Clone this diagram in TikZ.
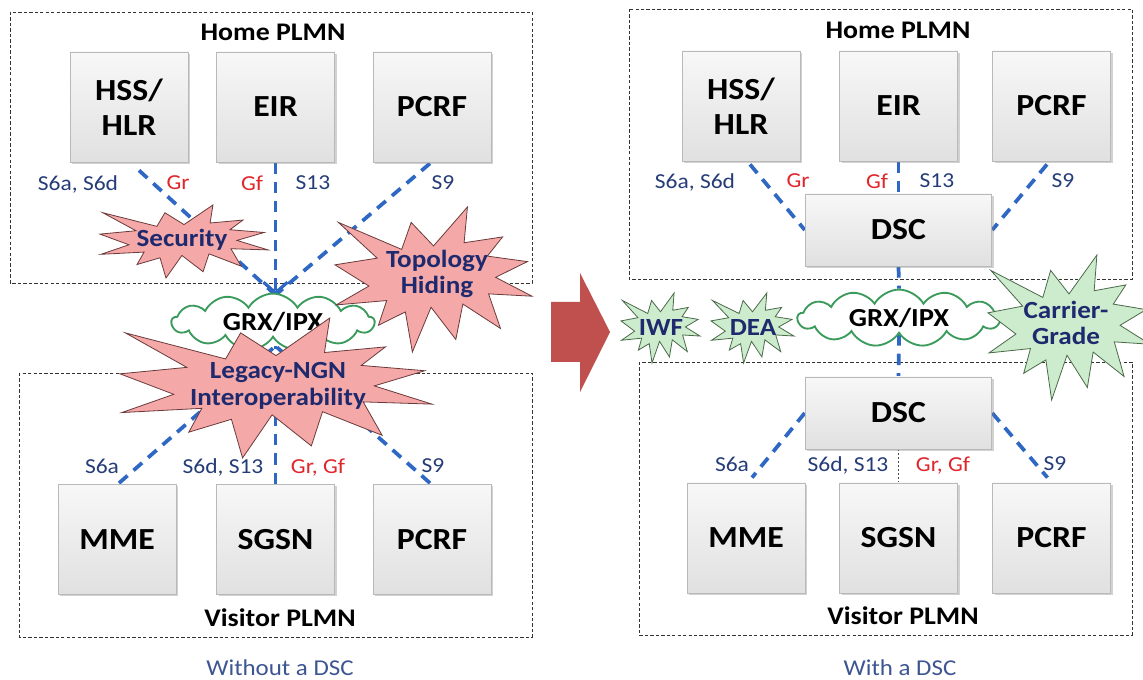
\documentclass[tikz,border=0pt]{standalone}
\usepackage{fontspec}
\setmainfont{Carlito}[FakeStretch=1.1]
\usetikzlibrary{shapes.symbols,shadows,arrows.meta,backgrounds}
\definecolor{linkblue}{HTML}{2F68C4}
\definecolor{navy}{HTML}{253C78}
\definecolor{lblred}{HTML}{E0252B}
\definecolor{burstnavy}{HTML}{1F2A6E}
\definecolor{pinkfill}{HTML}{F4A9A8}
\definecolor{pinkline}{HTML}{6B3A3A}
\definecolor{greenfill}{HTML}{CDECCD}
\definecolor{greenline}{HTML}{4A6A4A}
\definecolor{cloudgreen}{HTML}{3A9B5C}
\definecolor{arrowred}{HTML}{C0504D}
\definecolor{capblue}{HTML}{3D5592}
\newcommand\burstshape[5]{%
  \pgfmathsetmacro\exsx{(#4-#2)*0.75/216}%
  \pgfmathsetmacro\exsy{(#5-#3)*0.75/216}%
  \begin{scope}[shift={(#2,#3)},x=\exsx pt,y=-\exsy pt]
    \path[#1] (108,58) -- (145.22,0) -- (141.55,53.25) -- (183.8,44.57) -- (167.02,73.15)
      -- (210.97,81.37) -- (176.07,104.75) -- (216,132.9) -- (168.37,129.42) -- (181.45,180.95)
      -- (140.2,144.57) -- (132.47,197.37) -- (105.32,149.35) -- (84.85,216) -- (77.15,156.27)
      -- (47.62,176.17) -- (56.67,139.37) -- (1.35,145.87) -- (37.22,117.75) -- (0,86.15)
      -- (46.27,76.17) -- (3.7,22.95) -- (73.12,63.2) -- (83.52,22.95) -- cycle;
  \end{scope}}
\begin{document}
\begin{tikzpicture}[x=0.75pt,y=-0.75pt,
  box/.style={draw=gray!55, line width=0.6pt, top color=gray!6, bottom color=gray!24,
    drop shadow={shadow xshift=1.5pt,shadow yshift=-1.5pt,opacity=0.35},
    font=\bfseries\fontsize{23}{26}\selectfont, align=center,
    minimum width=88.5pt, minimum height=82.5pt, inner sep=0pt},
  dscbox/.style={box, minimum width=140pt, minimum height=54pt},
  region/.style={draw=black!80, dash pattern=on 2.5pt off 1.6pt, line width=0.6pt},
  link/.style={draw=linkblue, line width=2.8pt, dash pattern=on 8.5pt off 6pt},
  thinlink/.style={draw=black!70, line width=0.6pt, dash pattern=on 1.5pt off 1.5pt},
  lbl/.style={font=\fontsize{16}{17}\selectfont, text=navy, inner sep=0pt, text depth=0pt},
  rlbl/.style={lbl, text=lblred},
  title/.style={font=\bfseries\fontsize{19}{20}\selectfont, inner sep=0pt, text depth=0pt},
  caption/.style={font=\fontsize{17}{18}\selectfont, text=capblue, inner sep=0pt, text depth=0pt},
  pinkburst/.style={fill=pinkfill, draw=pinkline, line width=0.6pt},
  greenburst/.style={fill=greenfill, draw=greenline, line width=0.6pt},
  bursttext/.style={font=\bfseries\fontsize{18.5}{20}\selectfont, text=burstnavy, align=center, inner sep=0pt},
  cloudnode/.style={cloud, cloud puffs=13, cloud puff arc=120, aspect=3.7, draw=cloudgreen,
    line width=1.4pt, fill=white, minimum width=152pt, minimum height=41pt, inner sep=0pt,
    font=\bfseries\fontsize{19.5}{20}\selectfont}
]
\useasboundingbox (0,0) rectangle (1143,680);

% ---------- LEFT: without a DSC ----------
\node[box] (hssL) at (129,107) {HSS/\\HLR};
\node[box] (eirL) at (275.5,107) {EIR};
\node[box] (pcrfL) at (432,107) {PCRF};
\node[box] (mmeL) at (117,539.5) {MME};
\node[box] (sgsnL) at (275.5,539.5) {SGSN};
\node[box] (pcrfVL) at (432,539.5) {PCRF};
\node[cloudnode] (cloudL) at (273,322) {GRX/IPX};
\coordinate (tipL) at (275.5,295);
\coordinate (hubL) at (275.5,346);

% ---------- RIGHT: with a DSC (nodes) ----------
\node[box] (hssR) at (741,106) {HSS/\\HLR};
\node[box] (eirR) at (898.5,106) {EIR};
\node[box] (pcrfR) at (1051.5,106) {PCRF};
\node[dscbox] (dscH) at (898.5,230) {DSC};
\node[dscbox] (dscV) at (898.5,413) {DSC};
\node[box] (mmeR) at (746,538) {MME};
\node[box] (sgsnR) at (898.5,538) {SGSN};
\node[box] (pcrfVR) at (1051.5,538) {PCRF};
\node[cloudnode] (cloudR) at (899,318) {GRX/IPX};

\begin{scope}[on background layer]
  \fill[white] (0,0) rectangle (1143,680);
  \draw[region] (10,12) rectangle (532,283);
  \draw[region] (19,373) rectangle (532,637);
  \draw[link] ([shift={(10,8)}]hssL.south) -- (tipL);
  \draw[link,-{Straight Barb[length=8pt,width=18pt,line width=2.4pt]}] (eirL.south) -- (tipL);
  \draw[link] ([shift={(-2,1)}]pcrfL.south) -- (tipL);
  \draw[link] ([shift={(2,-1)}]mmeL.north) -- (hubL);
  \draw[link] (sgsnL.north) -- (hubL);
  \draw[link] ([shift={(-2,-1)}]pcrfVL.north) -- (hubL);
  \draw[region] (629,9) rectangle (1132,279);
  \draw[region] (639,362) rectangle (1132,635);
  \draw[link] ([shift={(9,3)}]hssR.south) -- (dscH.west);
  \draw[link] (eirR.south) -- (dscH.north);
  \draw[link] ([shift={(-4.5,3)}]pcrfR.south) -- (dscH.east);
  \draw[link] (dscH.south) -- (cloudR.north);
  \draw[link] (cloudR.south) -- (dscV.north);
  \draw[link] (dscV.west) -- ([shift={(6,-5)}]mmeR.north);
  \draw[link] (dscV.east) -- ([shift={(-4,-5)}]pcrfVR.north);
  \draw[thinlink] (dscV.south) -- (sgsnR.north);
\end{scope}

\burstshape{pinkburst}{100}{205}{268}{278}
\burstshape{pinkburst}{335}{207}{532}{352}
\burstshape{pinkburst}{120}{318}{432}{458}
\node[bursttext] (tSec) at (182,240) {Security};
\node[bursttext] (tTop) at (437,274) {Topology\\Hiding};
\node[bursttext] (tLeg) at (278,386) {Legacy-NGN\\Interoperability};

\node[title] (homeL) at (273,32) {Home PLMN};
\node[title] (visL) at (280,618) {Visitor PLMN};
\node[caption] (capL) at (280,668) {Without a DSC};

\node[lbl] (l1) at (78,183) {S6a, S6d};
\node[rlbl] (l2) at (178,183) {Gr};
\node[rlbl] (l3) at (252,183) {Gf};
\node[lbl] (l4) at (313,183) {S13};
\node[lbl] (l5) at (443,183) {S9};
\node[lbl] (l6) at (102,466) {S6a};
\node[lbl] (l7) at (223,466) {S6d, S13};
\node[rlbl] (l8) at (318,466) {Gr, Gf};
\node[lbl] (l9) at (433,466) {S9};

% ---------- arrow ----------
\fill[arrowred] (551,302) -- (580,302) -- (580,273) -- (610,332) -- (580,392) -- (580,362) -- (551,362) -- cycle;

\burstshape{greenburst}{621}{293}{700}{363}
\burstshape{greenburst}{711}{293}{794}{363}
\burstshape{greenburst}{988}{255}{1150}{400}
\node[bursttext] (tIwf) at (661,328) {IWF};
\node[bursttext] (tDea) at (753,328) {DEA};
\node[bursttext] (tCar) at (1066,323) {Carrier-\\Grade};

\node[title] (homeR) at (898,30) {Home PLMN};
\node[title] (visR) at (903,616) {Visitor PLMN};
\node[caption] (capR) at (900,668) {With a DSC};

\node[lbl] (r1) at (695,181) {S6a, S6d};
\node[rlbl] (r2) at (798,181) {Gr};
\node[rlbl] (r3) at (877,181) {Gf};
\node[lbl] (r4) at (937,181) {S13};
\node[lbl] (r5) at (1063,181) {S9};
\node[lbl] (r6) at (732,464) {S6a};
\node[lbl] (r7) at (848,464) {S6d, S13};
\node[rlbl] (r8) at (943,464) {Gr, Gf};
\node[lbl] (r9) at (1055,464) {S9};
\end{tikzpicture}
\end{document}
